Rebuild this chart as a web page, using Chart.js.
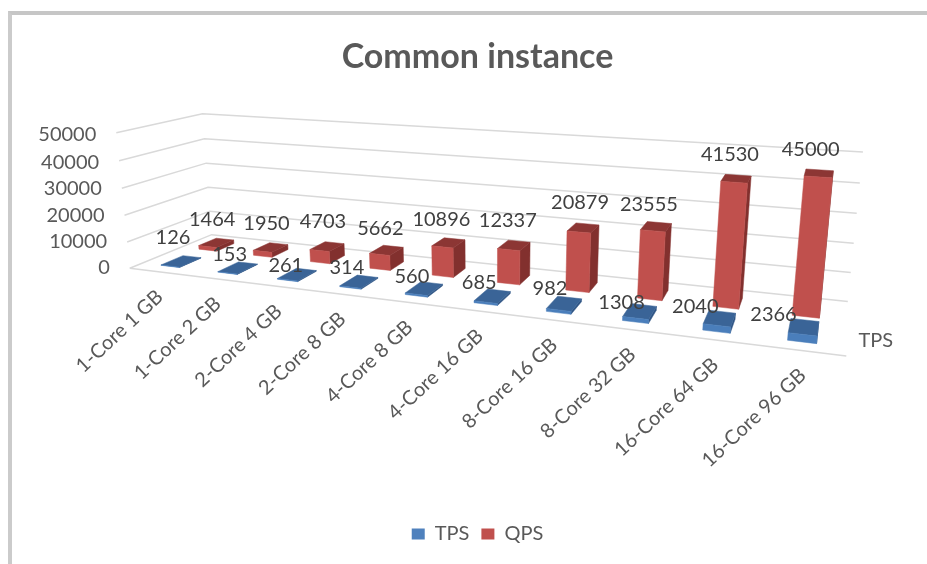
<!DOCTYPE html>
<html><head><meta charset="utf-8">
<style>
html,body{margin:0;padding:0;background:#fff;overflow:hidden}
#frame{position:absolute;left:8px;top:11px;width:919px;height:553px;border-left:4px solid #cbcbcb;border-top:4px solid #c6c6c6;box-sizing:border-box}
#wrap{position:absolute;left:0;top:0;width:927px;height:564px}
canvas{filter:blur(0.55px)}
</style>
<script src="https://cdn.jsdelivr.net/npm/chart.js@4/dist/chart.umd.min.js"></script>
</head><body>
<div id="frame"></div>
<div id="wrap"><canvas id="c" width="927" height="564"></canvas></div>
<script>
const categories = ['1-Core 1 GB','1-Core 2 GB','2-Core 4 GB','2-Core 8 GB','4-Core 8 GB','4-Core 16 GB','8-Core 16 GB','8-Core 32 GB','16-Core 64 GB','16-Core 96 GB'];
const tpsValues = [126,153,261,314,560,685,982,1308,2040,2366];
const qpsValues = [1464,1950,4703,5662,10896,12337,20879,23555,41530,45000];
const FONT = 'Lato, "Open Sans", sans-serif';

// Camera calibration: [u, w, t, screenX, screenY]; u along categories, w depth, t height fraction.
const CAMERA = [
 [0,0,0,130,267],[0,0,.2,127,242],[0,0,.4,124,215],[0,0,.6,122,188],[0,0,.8,119,161],[0,0,1,117,133],
 [0,1,0,212,234],[0,1,.2,209,210],[0,1,.4,207,187],[0,1,.6,206,163],[0,1,.8,204,139],[0,1,1,203,114],
 [1,1,0,848,302],[1,1,.2,851,273],[1,1,.4,853,243],[1,1,.6,857,213],[1,1,.8,860,183],[1,1,1,863,152],
 [1,0,0,847,355],[1,0,0,847,355],
 [.05,.27,0,180,263],[.45,.27,0,423,291],[.95,.27,0,802,336],
 [.05,.72,0,220,247],[.45,.72,0,450,273],[.95,.72,0,806,309]
];
function fitCamera(pts){
  const n=11, A=Array.from({length:n},()=>new Array(n+1).fill(0));
  const add=(r,b)=>{for(let i=0;i<n;i++){for(let j=0;j<n;j++)A[i][j]+=r[i]*r[j];A[i][n]+=r[i]*b;}};
  for(const [u,w,t,x0,y0] of pts){
    const x=x0/1000,y=y0/1000;
    add([u,w,t,1,0,0,0,0,-x*u,-x*w,-x*t],x);
    add([0,0,0,0,u,w,t,1,-y*u,-y*w,-y*t],y);
  }
  for(let i=0;i<n;i++){
    let p=i;for(let k=i+1;k<n;k++)if(Math.abs(A[k][i])>Math.abs(A[p][i]))p=k;
    [A[i],A[p]]=[A[p],A[i]];
    for(let k=0;k<n;k++){if(k===i)continue;const f=A[k][i]/A[i][i];for(let j=i;j<=n;j++)A[k][j]-=f*A[i][j];}
  }
  return A.map((r,i)=>r[n]/r[i]);
}
const P=fitCamera(CAMERA);
function proj(u,w,t){
  const d=P[8]*u+P[9]*w+P[10]*t+1;
  return {x:1000*(P[0]*u+P[1]*w+P[2]*t+P[3])/d,y:1000*(P[4]*u+P[5]*w+P[6]*t+P[7])/d};
}
function quad(ctx,pts,fill){
  ctx.beginPath();pts.forEach((p,i)=>i?ctx.lineTo(p.x,p.y):ctx.moveTo(p.x,p.y));ctx.closePath();
  ctx.fillStyle=fill;ctx.fill();ctx.strokeStyle=fill;ctx.lineWidth=.5;ctx.stroke();
}
// Label placement nudges (style only), one per category.
const tpsNudgeX=[6,6,3,2,2,1,0,-4,-10,-16], tpsNudgeY=[-9,2,6,1,3,1,0,6,3,2];
const qpsNudgeX=[2,2,2,0,-1,0,3,-1,0,-2], qpsNudgeY=[-3,-4,-5,-2,-3,-5,-5,-2,-4,-4];
const ROWS=[{w0:.14,w1:.40,top:'#3a6497',side:'#2f5585',front:'#4a7ebb',lx:-14,ly:-15,nx:tpsNudgeX,ny:tpsNudgeY},
            {w0:.60,w1:.83,top:'#8c3634',side:'#82302e',front:'#c0504d',lx:-6,ly:-20,nx:qpsNudgeX,ny:qpsNudgeY}];
const scene3d={
  id:'scene3d',
  beforeDatasetsDraw(chart){
    const ctx=chart.ctx,xs=chart.scales.x,ys=chart.scales.y;
    const U=px=>(px-xs.left)/(xs.right-xs.left);
    const T=px=>(ys.bottom-px)/(ys.bottom-ys.top);
    ctx.save();
    // walls and floor from the value scale's ticks
    ctx.strokeStyle='#d9d9d9';ctx.lineWidth=1.5;
    ys.ticks.forEach(tk=>{
      const t=T(ys.getPixelForValue(tk.value));
      const a=proj(0,0,t),b=proj(0,1,t),c=proj(1,1,t);
      ctx.beginPath();ctx.moveTo(a.x,a.y);ctx.lineTo(b.x,b.y);ctx.lineTo(c.x,c.y);ctx.stroke();
      ctx.fillStyle='#595959';ctx.font='20px '+FONT;ctx.textAlign='right';ctx.textBaseline='middle';
      ctx.fillText(String(tk.value),a.x-20,a.y-1+3*t);
    });
    const f0=proj(0,0,0),f1=proj(1,0,0);
    ctx.beginPath();ctx.moveTo(f0.x,f0.y);ctx.lineTo(f1.x,f1.y);ctx.stroke();
    // boxes: back row first
    const labels=[];
    [1,0].forEach(ds=>{
      const meta=chart.getDatasetMeta(ds),r=ROWS[ds];
      meta.data.forEach((el,i)=>{
        const u0=U(el.x-el.width/2),u1=U(el.x+el.width/2),t=T(el.y);
        const a=proj(u0,r.w0,0),b=proj(u1,r.w0,0),c=proj(u1,r.w1,0);
        const e=proj(u0,r.w0,t),f=proj(u1,r.w0,t),g=proj(u1,r.w1,t),h=proj(u0,r.w1,t);
        quad(ctx,[b,c,g,f],r.side);
        quad(ctx,[e,f,g,h],r.top);
        quad(ctx,[a,b,f,e],r.front);
        labels.push({x:(e.x+g.x)/2+r.lx+r.nx[i],y:(e.y+g.y)/2+r.ly+r.ny[i],s:String(chart.data.datasets[ds].data[i])});
      });
    });
    // value labels
    ctx.fillStyle='#404040';ctx.font='20px '+FONT;ctx.textAlign='center';ctx.textBaseline='middle';
    labels.forEach(l=>ctx.fillText(l.s,l.x,l.y));
    // category labels
    ctx.fillStyle='#595959';ctx.textAlign='right';
    xs.getLabels().forEach((lab,i)=>{
      const p=proj(U(xs.getPixelForValue(i)),0,0);
      ctx.save();ctx.translate(p.x+2,p.y+22);ctx.rotate(-43*Math.PI/180);ctx.fillText(lab,0,0);ctx.restore();
    });
    // depth axis label (first series only)
    const q=proj(1,ROWS[0].w0,0);
    ctx.textAlign='left';ctx.fillText(chart.data.datasets[0].label,q.x+12,q.y-7);
    ctx.restore();
    return false;
  }
};
new Chart(document.getElementById('c'),{
  type:'bar',
  data:{labels:categories,datasets:[
    {label:'TPS',data:tpsValues,backgroundColor:'#4f81bd',grouped:false,barPercentage:1,categoryPercentage:.33},
    {label:'QPS',data:qpsValues,backgroundColor:'#c0504d',grouped:false,barPercentage:1,categoryPercentage:.33}
  ]},
  plugins:[scene3d],
  options:{
    responsive:false,animation:false,
    layout:{padding:{left:28,bottom:10,top:37}},
    scales:{
      x:{display:false,ticks:{autoSkip:false}},
      y:{display:false,min:0,max:50000,ticks:{stepSize:10000}}
    },
    plugins:{
      tooltip:{enabled:false},
      title:{display:true,text:'Common instance',color:'#595959',font:{family:FONT,size:34,weight:'bold'},padding:{top:0,bottom:10}},
      legend:{position:'bottom',labels:{boxWidth:13,boxHeight:11,padding:12,color:'#595959',font:{family:FONT,size:20}}}
    }
  }
});
</script>
</body></html>
